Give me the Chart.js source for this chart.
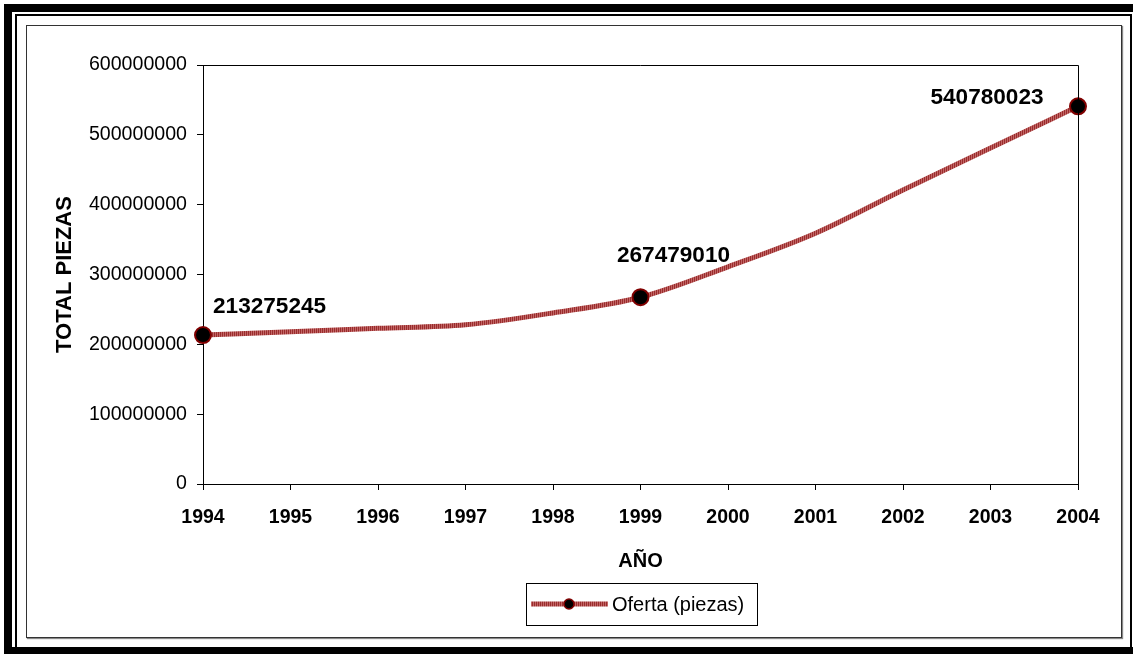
<!DOCTYPE html>
<html>
<head>
<meta charset="utf-8">
<script src="https://cdn.jsdelivr.net/npm/chart.js@4/dist/chart.umd.min.js"></script>
<style>
  html, body { margin: 0; padding: 0; background: #fff; }
  #wrap { position: relative; width: 1133px; height: 654px; overflow: hidden; }
  canvas { position: absolute; left: 0; top: 0; }
  .f { position: absolute; box-sizing: border-box; }
</style>
</head>
<body>
<div id="wrap">
  <div class="f" style="left:4px;top:4px;width:1129px;height:8px;background:#000;"></div>
  <div class="f" style="left:4px;top:4px;width:8px;height:650px;background:#000;"></div>
  <div class="f" style="left:4px;top:647px;width:1129px;height:7px;background:#000;"></div>
  <div class="f" style="left:15px;top:14px;width:1117px;height:634px;border:2px solid #000;border-bottom:none;"></div>
  <div class="f" style="left:26px;top:25px;width:1096px;height:613px;border:1px solid #333;box-shadow:1px 1px 1px #888;"></div>
  <canvas id="c" width="1133" height="654"></canvas>
</div>
<script>
const years = ['1994','1995','1996','1997','1998','1999','2000','2001','2002','2003','2004'];
const oferta = [213275245, 218000000, 223000000, 228000000, 245000000, 267479010, 311000000, 359000000, 421000000, 481000000, 540780023];
const labeledIdx = [0, 5, 10];
const yTicks = [0, 100000000, 200000000, 300000000, 400000000, 500000000, 600000000];
const seriesName = 'Oferta (piezas)';

const FONT = "'Liberation Sans', Arial, sans-serif";

// striped dark-red pattern for the line
function makePattern() {
  const p = document.createElement('canvas');
  p.width = 2; p.height = 2;
  const g = p.getContext('2d');
  g.fillStyle = '#9A2C2C'; g.fillRect(0, 0, 1, 2);
  g.fillStyle = '#C26666'; g.fillRect(1, 0, 1, 2);
  return g.createPattern(p, 'repeat');
}
const linePattern = makePattern();

const pointRadii = years.map((_, i) => labeledIdx.includes(i) ? 8 : 0);

const labelOffsets = [
  { dx: 10, dy: -28, align: 'left' },
  { dx: 33, dy: -41, align: 'center' },
  { dx: -91, dy: -9, align: 'center' }
];

const decorPlugin = {
  id: 'decor',
  afterDatasetsDraw(chart) {
    const ctx = chart.ctx;
    const a = chart.chartArea;
    ctx.save();
    // plot area top/right border
    ctx.strokeStyle = '#000'; ctx.lineWidth = 1;
    ctx.beginPath();
    ctx.moveTo(a.left, a.top + 0.5); ctx.lineTo(a.right + 0.5, a.top + 0.5);
    ctx.lineTo(a.right + 0.5, a.bottom);
    ctx.stroke();
    // data labels
    const meta = chart.getDatasetMeta(0);
    ctx.font = 'bold 22.6px ' + FONT;
    ctx.fillStyle = '#000';
    ctx.textBaseline = 'middle';
    labeledIdx.forEach((idx, k) => {
      const pt = meta.data[idx];
      const o = labelOffsets[k];
      ctx.textAlign = o.align;
      ctx.fillText(String(oferta[idx]), pt.x + o.dx, pt.y + o.dy);
    });
    // legend
    const lx = 526, ly = 583, lw = 231, lh = 42;
    ctx.fillStyle = '#fff';
    ctx.fillRect(lx, ly, lw, lh);
    ctx.strokeStyle = '#000'; ctx.lineWidth = 1;
    ctx.strokeRect(lx + 0.5, ly + 0.5, lw, lh);
    const cy = ly + 21;
    ctx.strokeStyle = linePattern; ctx.lineWidth = 5;
    ctx.beginPath(); ctx.moveTo(531, cy); ctx.lineTo(608, cy); ctx.stroke();
    ctx.beginPath(); ctx.arc(569, cy, 5, 0, Math.PI * 2);
    ctx.fillStyle = '#000'; ctx.fill();
    ctx.strokeStyle = '#800000'; ctx.lineWidth = 1.5; ctx.stroke();
    ctx.fillStyle = '#000';
    ctx.font = '20px ' + FONT;
    ctx.textAlign = 'left'; ctx.textBaseline = 'middle';
    ctx.fillText(seriesName, 612, cy + 1);
    ctx.restore();
  }
};

new Chart(document.getElementById('c'), {
  type: 'line',
  data: {
    labels: years,
    datasets: [{
      label: seriesName,
      data: oferta,
      borderColor: linePattern,
      borderWidth: 5,
      cubicInterpolationMode: 'monotone',
      pointRadius: pointRadii,
      pointHoverRadius: pointRadii,
      pointBackgroundColor: '#000',
      pointBorderColor: '#800000',
      pointBorderWidth: 2,
      fill: false
    }]
  },
  options: {
    responsive: false,
    animation: false,
    layout: { padding: { left: 0, right: 55, top: 65, bottom: 70 } },
    plugins: { legend: { display: false }, tooltip: { enabled: false } },
    scales: {
      x: {
        type: 'category',
        offset: false,
        grid: { display: true, drawOnChartArea: false, drawTicks: true, tickLength: 6, color: '#000' },
        border: { display: true, color: '#000', width: 1 },
        ticks: { color: '#000', font: { family: FONT, size: 19.5, weight: 'bold' }, padding: 16, maxRotation: 0, autoSkip: false },
        title: { display: true, text: 'AÑO', color: '#000', font: { family: FONT, size: 20, weight: 'bold' }, padding: { top: 0, bottom: 11 } },
        afterFit(s) { s.height = 100; }
      },
      y: {
        min: 0, max: 600000000,
        afterBuildTicks(s) { s.ticks = yTicks.map(v => ({ value: v })); },
        grid: { display: true, drawOnChartArea: false, drawTicks: true, tickLength: 6, color: '#000' },
        border: { display: true, color: '#000', width: 1 },
        ticks: { color: '#000', font: { family: FONT, size: 19.6 }, padding: 10, callback: v => String(v) },
        title: { display: true, text: 'TOTAL PIEZAS', color: '#000', font: { family: FONT, size: 22, weight: 'bold' }, padding: { top: 52, bottom: 0 } },
        afterFit(s) { s.width = 203; }
      }
    }
  },
  plugins: [decorPlugin]
});
</script>
</body>
</html>
